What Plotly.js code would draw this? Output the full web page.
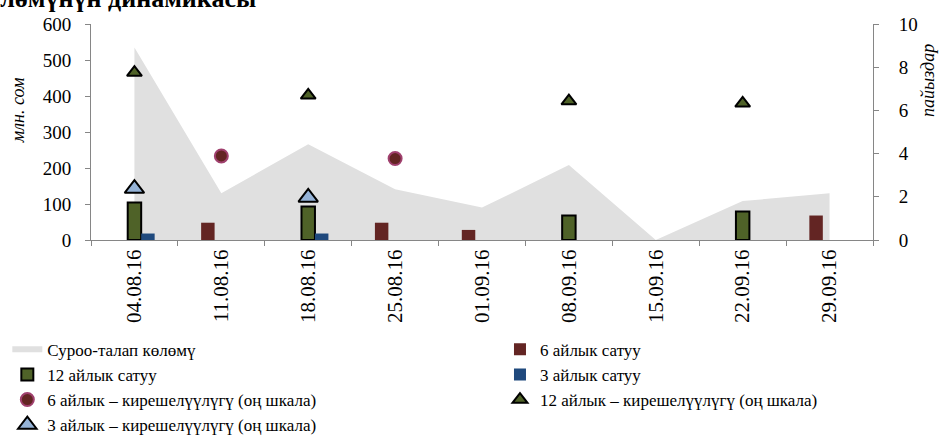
<!DOCTYPE html>
<html>
<head>
<meta charset="utf-8">
<script src="https://cdn.plot.ly/plotly-3.0.1.min.js"></script>
<style>html,body{margin:0;padding:0;background:#fff;}#chart{width:948px;height:436px;}</style>
</head>
<body>
<div id="chart"></div>
<script>
var dates = ['04.08.16','11.08.16','18.08.16','25.08.16','01.09.16','08.09.16','15.09.16','22.09.16','29.09.16'];
var demand = [535, 130, 266, 141, 90, 208, 0, 108, 130];
var sale6 = [null, 48, null, 48, 28, null, null, null, 68];
var sale12 = [104, null, 93, null, null, 68, null, 79, null];
var sale3 = [18, null, 18, null, null, null, null, null, null];
var yield6 = [null, 3.89, null, 3.77, null, null, null, null, null];
var yield12 = [7.75, null, 6.70, null, null, 6.43, null, 6.33, null];
var yield3 = [2.38, null, 1.97, null, null, null, null, null, null];

var serif = 'Liberation Serif';

var traces = [
  {x: dates, y: demand, type: 'scatter', mode: 'none', fill: 'tozeroy', fillcolor: '#E0E0E0',
   name: 'Суроо-талап көлөмү', xaxis: 'x', yaxis: 'y', legend: 'legend'},
  {x: dates, y: sale6, type: 'bar', name: '6 айлык сатуу', marker: {color: '#632523'}, xaxis: 'x', yaxis: 'y2', legend: 'legend2'},
  {x: dates, y: sale12, type: 'bar', name: '12 айлык сатуу', marker: {color: '#4F6228', line: {color: '#000', width: 2}}, xaxis: 'x', yaxis: 'y2', legend: 'legend'},
  {x: dates, y: sale3, type: 'bar', name: '3 айлык сатуу', marker: {color: '#1F497D'}, xaxis: 'x', yaxis: 'y2', legend: 'legend2'},
  {x: dates, y: yield6, type: 'scatter', mode: 'markers', name: '6 айлык – кирешелүүлүгү (оң шкала)',
   marker: {symbol: 'circle', size: 13, color: '#632523', line: {color: '#A0406E', width: 2}}, xaxis: 'x', yaxis: 'y3', legend: 'legend'},
  {x: dates, y: yield12, type: 'scatter', mode: 'markers', name: '12 айлык – кирешелүүлүгү (оң шкала)',
   marker: {symbol: 'triangle-up', size: 13, color: '#4F6228', line: {color: '#000', width: 2}}, xaxis: 'x', yaxis: 'y3', legend: 'legend2'},
  {x: dates, y: yield3, type: 'scatter', mode: 'markers', name: '3 айлык – кирешелүүлүгү (оң шкала)',
   marker: {symbol: 'triangle-up', size: 17, color: '#95B3D7', line: {color: '#000', width: 2}}, xaxis: 'x', yaxis: 'y3', legend: 'legend'}
];

var axisLine = '#868686';
var tickFont = {family: serif, size: 19, color: '#000'};
var legendFont = {family: serif, size: 17, color: '#000'};
var layout = {
  width: 948, height: 436,
  margin: {l: 91, r: 75, t: 24, b: 196, pad: 0, autoexpand: false},
  paper_bgcolor: '#fff', plot_bgcolor: '#fff',
  font: {family: serif, size: 17, color: '#000'},
  showlegend: true,
  barmode: 'group', bargap: 0.535, bargroupgap: 0,
  xaxis: {type: 'category', range: [-0.5, 8.5], autorange: false, showgrid: false, showline: true, linecolor: axisLine, linewidth: 1,
    ticks: 'outside', ticklen: 5, tickcolor: axisLine, tickson: 'boundaries', tickangle: -90,
    tickfont: {family: serif, size: 21, color: '#000'}, zeroline: false, automargin: false},
  yaxis: {range: [0, 600], dtick: 100, showgrid: false, showline: true, linecolor: axisLine,
    ticks: 'outside', ticklen: 5, tickcolor: axisLine, zeroline: false, tickfont: tickFont,
    ticklabelstandoff: 10, automargin: false},
  yaxis2: {range: [0, 600], overlaying: 'y', visible: false, showgrid: false, zeroline: false},
  yaxis3: {range: [0, 10], dtick: 2, overlaying: 'y', side: 'right', showgrid: false, showline: true,
    linecolor: axisLine, ticks: 'outside', ticklen: 5, tickcolor: axisLine, zeroline: false, tickfont: tickFont,
    ticklabelstandoff: 16, automargin: false},
  legend: {orientation: 'v', x: -0.107, xanchor: 'left', y: -0.425, yanchor: 'top',
    traceorder: 'normal', font: legendFont, itemwidth: 30, bgcolor: 'rgba(0,0,0,0)'},
  legend2: {orientation: 'v', x: 0.523, xanchor: 'left', y: -0.425, yanchor: 'top',
    traceorder: 'normal', font: legendFont, itemwidth: 30, bgcolor: 'rgba(0,0,0,0)'},
  annotations: [
    {text: 'Суроо-талап көлөмүнүн динамикасы', xref: 'paper', yref: 'paper', x: 0.2136, y: 1.04,
     xanchor: 'right', yanchor: 'bottom', showarrow: false,
     font: {family: serif, size: 26, color: '#000', weight: 'bold'}},
    {text: '<i>млн. сом</i>', xref: 'paper', yref: 'paper', x: -0.093, y: 0.602, textangle: -90,
     xanchor: 'center', yanchor: 'middle', showarrow: false, font: {family: serif, size: 18, color: '#000'}},
    {text: '<i>пайыздар</i>', xref: 'paper', yref: 'paper', x: 1.07, y: 0.74, textangle: -90,
     xanchor: 'center', yanchor: 'middle', showarrow: false, font: {family: serif, size: 18, color: '#000'}}
  ]
};

Plotly.newPlot('chart', traces, layout, {displayModeBar: false, staticPlot: true});
</script>
</body>
</html>
